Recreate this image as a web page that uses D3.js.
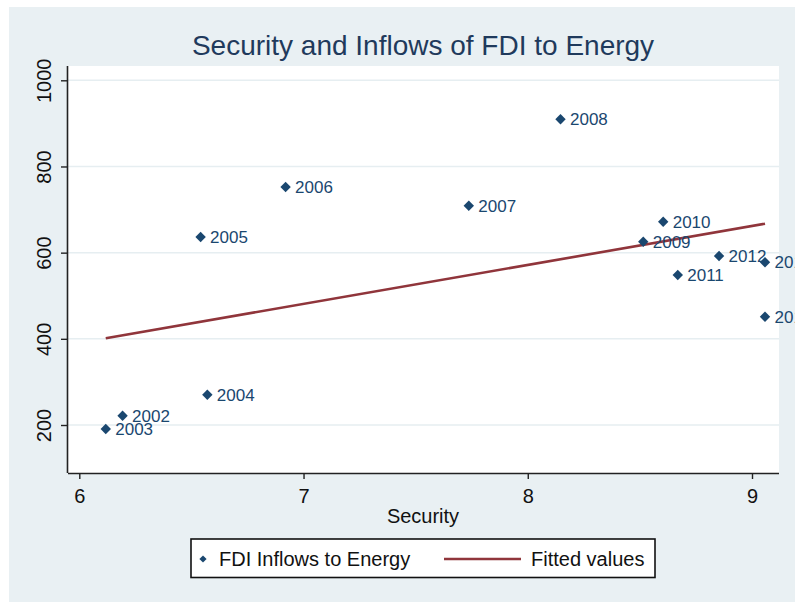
<!DOCTYPE html>
<html>
<head>
<meta charset="utf-8">
<script src="https://cdn.jsdelivr.net/npm/d3@7"></script>
<style>
  html, body { margin: 0; padding: 0; background: #fff; }
  svg { display: block; font-family: "Liberation Sans", Arial, sans-serif; }
</style>
</head>
<body>
<div id="chart"></div>
<script>
const width = 795
const height = 602

// data
const years = [2002, 2003, 2004, 2005, 2006, 2007, 2008, 2009, 2010, 2011, 2012, 2013, 2014]
const security = [6.193, 6.118, 6.571, 6.541, 6.920, 7.737, 8.146, 8.515, 8.604, 8.669, 8.853, 9.058, 9.058]
const fdi = [221.6, 190.7, 270.3, 636.4, 752.4, 709.0, 909.5, 625.4, 671.8, 548.1, 592.2, 577.6, 451.3]
const xTicks = [6, 7, 8, 9]
const yTicks = [200, 400, 600, 800, 1000]

const navy = "#1a476f"
const maroon = "#90353b"
const plot = { left: 68, right: 779, top: 66, bottom: 473 }

const svg = d3.select("#chart").append("svg").attr("width", width).attr("height", height)

// graph region
svg.append("rect").attr("x", 9).attr("y", 7).attr("width", width - 9).attr("height", height - 7)
    .attr("fill", "#e9f0f3")
svg.append("rect").attr("x", plot.left).attr("y", plot.top)
    .attr("width", plot.right - plot.left).attr("height", plot.bottom - plot.top)
    .attr("fill", "#fff")

const x = d3.scaleLinear().domain([5.9496, 9.1204]).range([plot.left, plot.right])
const y = d3.scaleLinear().domain([88.6, 1033.2]).range([plot.bottom, plot.top])

// grid
svg.append("g").selectAll("line").data(yTicks).join("line")
    .attr("x1", plot.left).attr("x2", plot.right)
    .attr("y1", d => y(d)).attr("y2", d => y(d))
    .attr("stroke", "#e6eef1").attr("stroke-width", 1.5)

// axes
const xAxis = svg.append("g").attr("transform", `translate(0,${plot.bottom})`)
    .call(d3.axisBottom(x).tickValues(xTicks).tickSize(6).tickPadding(10).tickFormat(d3.format("d")))
xAxis.select(".domain").attr("d", `M${plot.left},0.5H${plot.right}`).attr("stroke", "#222").attr("stroke-width", 1.6)
xAxis.selectAll(".tick line").attr("stroke", "#222").attr("stroke-width", 1.4)
xAxis.selectAll(".tick text").attr("font-size", 20).attr("fill", "#111")
    .attr("font-family", "Liberation Sans, Arial, sans-serif")

const yAxis = svg.append("g").attr("transform", `translate(${plot.left},0)`)
    .call(d3.axisLeft(y).tickValues(yTicks).tickSize(7).tickFormat(d3.format("d")))
yAxis.select(".domain").attr("d", `M-0.5,${plot.top}V${plot.bottom}`).attr("stroke", "#222").attr("stroke-width", 1.6)
yAxis.selectAll(".tick line").attr("stroke", "#222").attr("stroke-width", 1.4)
yAxis.selectAll(".tick text")
    .attr("x", 0).attr("dy", null).attr("y", 0)
    .attr("transform", "translate(-17,0) rotate(-90)")
    .attr("text-anchor", "middle")
    .attr("font-size", 20).attr("fill", "#111")
    .attr("font-family", "Liberation Sans, Arial, sans-serif")

// titles
svg.append("text").attr("x", 423).attr("y", 55).attr("text-anchor", "middle")
    .attr("font-size", 28).attr("fill", "#1f3a5c")
    .text("Security and Inflows of FDI to Energy")
svg.append("text").attr("x", 423).attr("y", 523).attr("text-anchor", "middle")
    .attr("font-size", 20).attr("fill", "#111")
    .text("Security")

// fitted values (OLS of fdi on security)
const mx = d3.mean(security), my = d3.mean(fdi)
const slope = d3.sum(security, (s, i) => (s - mx) * (fdi[i] - my)) / d3.sum(security, s => (s - mx) ** 2)
const fit = s => my + slope * (s - mx)
const xr = d3.extent(security)
svg.append("path")
    .attr("d", d3.line().x(d => x(d)).y(d => y(fit(d)))(xr))
    .attr("stroke", maroon).attr("stroke-width", 2.6).attr("fill", "none")

// points + labels
const pts = years.map((yr, i) => ({ year: yr, s: security[i], v: fdi[i] }))
const diamond = r => `M0,${-r}L${r},0L0,${r}L${-r},0Z`
svg.append("g").selectAll("path").data(pts).join("path")
    .attr("d", diamond(5.2))
    .attr("transform", d => `translate(${x(d.s)},${y(d.v)})`)
    .attr("fill", navy)
svg.append("g").selectAll("text").data(pts).join("text")
    .attr("x", d => x(d.s) + 9.5).attr("y", d => y(d.v) + 6)
    .attr("font-size", 17).attr("fill", navy)
    .text(d => d.year)

// legend
const lg = svg.append("g")
lg.append("rect").attr("x", 191).attr("y", 539).attr("width", 464).attr("height", 38.5)
    .attr("fill", "#fff").attr("stroke", "#111").attr("stroke-width", 1.6)
lg.append("path").attr("d", diamond(3.6)).attr("transform", "translate(203,559)").attr("fill", navy)
lg.append("text").attr("x", 219).attr("y", 566).attr("font-size", 20).attr("fill", "#111")
    .text("FDI Inflows to Energy")
lg.append("line").attr("x1", 444).attr("x2", 521).attr("y1", 559).attr("y2", 559)
    .attr("stroke", maroon).attr("stroke-width", 2.6)
lg.append("text").attr("x", 531).attr("y", 566).attr("font-size", 20).attr("fill", "#111")
    .text("Fitted values")
</script>
</body>
</html>
